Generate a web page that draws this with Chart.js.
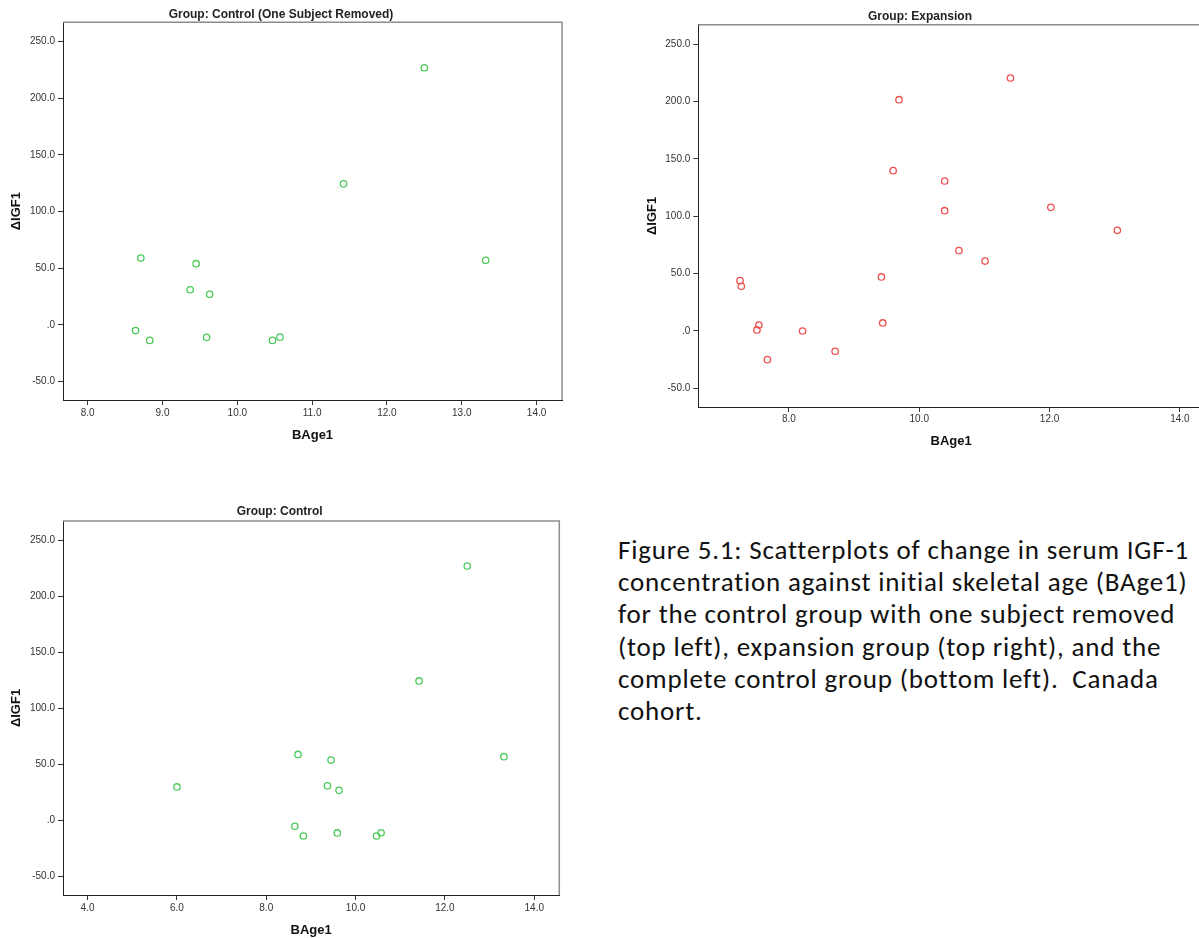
<!DOCTYPE html>
<html>
<head>
<meta charset="utf-8">
<script src="https://cdn.jsdelivr.net/npm/chart.js@4.4.0/dist/chart.umd.min.js"></script>
<style>
  html, body { margin: 0; padding: 0; background: #fff; overflow: hidden; width: 1199px; height: 938px; }
  .panel { position: absolute; }
  #caption {
    position: absolute; left: 618px; top: 534px;
    font-family: Carlito, Lato, sans-serif; font-size: 27px; line-height: 32.2px;
    letter-spacing: 0.8px; color: #111; white-space: pre;
  }
</style>
</head>
<body>
<canvas id="ctrlRemoved" class="panel" width="565" height="450" style="left:0;top:0"></canvas>
<canvas id="expansion" class="panel" width="570" height="457" style="left:636px;top:0"></canvas>
<canvas id="ctrlAll" class="panel" width="565" height="450" style="left:0;top:495px"></canvas>
<div id="caption">Figure 5.1: Scatterplots of change in serum IGF-1
concentration against initial skeletal age (BAge1)
for the control group with one subject removed
(top left), expansion group (top right), and the
complete control group (bottom left).  Canada
cohort.</div>

<script>
// control group, the last subject is the one removed in the top left plot
const controlBAge = [12.50, 11.42, 13.32, 8.71, 9.45, 9.37, 9.63, 8.64, 8.83, 9.59, 10.47, 10.57, 6.00];
const controlIGF = [227, 124.5, 57, 59, 54, 31, 27, -5, -13.7, -11, -13.7, -10.8, 30];
const removedSubject = 12;

// expansion group
const expansionBAge = [11.40, 9.69, 9.60, 10.39, 10.39, 12.02, 13.04, 10.61, 11.01, 9.42, 7.25, 7.27, 7.54, 7.51, 8.21, 9.44, 7.67, 8.71];
const expansionIGF = [220.6, 201.7, 139.8, 130.8, 104.9, 107.8, 87.8, 70.1, 61.0, 47.1, 43.9, 39.0, 5.2, 0.9, 0, 7.0, -25.0, -17.7];

// tick labels
const igfTicks = [-50, 0, 50, 100, 150, 200, 250];
const ageTicksRemoved = [8, 9, 10, 11, 12, 13, 14];
const ageTicksExpansion = [8, 10, 12, 14];
const ageTicksControl = [4, 6, 8, 10, 12, 14];

const GREEN = "#4cc95a";
const RED = "#ee5050";
const FONT = "'Liberation Sans', Arial, sans-serif";

function toPoints(xs, ys) {
  return xs.map((x, i) => ({ x: x, y: ys[i] }));
}

function oneDecimal(v) {
  return v === 0 ? ".0" : v.toFixed(1);
}

// top and right edge of the plot frame (left/bottom come from the axes)
const frameLines = {
  id: "frameLines",
  beforeDatasetsDraw(chart) {
    const { ctx, chartArea: a } = chart;
    ctx.save();
    ctx.strokeStyle = "#8c8c8c";
    ctx.lineWidth = 1.5;
    ctx.beginPath();
    ctx.moveTo(a.left, a.top);
    ctx.lineTo(a.right, a.top);
    ctx.lineTo(a.right, a.bottom);
    ctx.stroke();
    ctx.restore();
  },
};

function axisStyle(tickValues, tickPad) {
  return {
    type: "linear",
    afterBuildTicks: (ax) => {
      ax.ticks = tickValues.map((v) => ({ value: v }));
    },
    ticks: {
      autoSkip: false,
      maxRotation: 0,
      padding: tickPad,
      color: "#333",
      font: { family: FONT, size: 10 },
      callback: (v) => oneDecimal(v),
    },
    grid: { drawOnChartArea: false, drawTicks: true, tickLength: 5, color: "#333", tickWidth: 1 },
    border: { display: true, color: "#222", width: 1 },
  };
}

function scatterPanel(id, o) {
  const ctx = document.getElementById(id);
  if (!ctx) return;

  const x = axisStyle(o.xTicks, o.xTickPad);
  x.min = o.xMin;
  x.max = o.xMax;
  x.afterFit = (ax) => { ax.height = 50; };
  x.title = {
    display: true, text: "BAge1", color: "#111",
    font: { family: FONT, size: 13, weight: "bold" },
    padding: { top: 0, bottom: o.xTitlePad },
  };

  const y = axisStyle(igfTicks, 3);
  y.min = -66.3;
  y.max = 267.1;
  y.afterFit = (ax) => { ax.width = o.yWidth; };
  y.title = {
    display: true, text: "ΔIGF1", color: "#111",
    font: { family: FONT, size: 13, weight: "bold" },
    padding: { top: 9, bottom: 0 },
  };

  return new Chart(ctx, {
    type: "scatter",
    data: {
      datasets: [
        {
          data: toPoints(o.xs, o.ys),
          borderColor: o.color,
          backgroundColor: "rgba(0,0,0,0)",
          pointRadius: 3.2,
          pointHoverRadius: 3.2,
          pointBorderWidth: 1.3,
        },
      ],
    },
    options: {
      responsive: false,
      animation: false,
      events: [],
      layout: { autoPadding: false, padding: { left: 0, top: 0, right: o.padRight, bottom: 0 } },
      plugins: {
        legend: { display: false },
        tooltip: { enabled: false },
        title: {
          display: true,
          text: o.title,
          color: "#222",
          font: { family: FONT, size: 12, weight: "bold" },
          padding: { top: o.titleTop, bottom: o.titleBottom },
        },
      },
      scales: { x: x, y: y },
    },
    plugins: [frameLines],
  });
}

scatterPanel("ctrlRemoved", {
  title: "Group: Control (One Subject Removed)",
  xs: controlBAge.filter((_, i) => i !== removedSubject),
  ys: controlIGF.filter((_, i) => i !== removedSubject),
  color: GREEN,
  xTicks: ageTicksRemoved, xMin: 7.67, xMax: 14.34,
  yWidth: 63, padRight: 3,
  titleTop: 7.3, titleBottom: 0.6,
  xTickPad: 2, xTitlePad: 7.2,
});

scatterPanel("expansion", {
  title: "Group: Expansion",
  xs: expansionBAge,
  ys: expansionIGF,
  color: RED,
  xTicks: ageTicksExpansion, xMin: 6.61, xMax: 14.37,
  yWidth: 62.3, padRight: 2,
  titleTop: 9.3, titleBottom: 1,
  xTickPad: 1.5, xTitlePad: 7.5,
});

scatterPanel("ctrlAll", {
  title: "Group: Control",
  xs: controlBAge,
  ys: controlIGF,
  color: GREEN,
  xTicks: ageTicksControl, xMin: 3.45, xMax: 14.56,
  yWidth: 63, padRight: 5.7,
  titleTop: 9.3, titleBottom: 2.3,
  xTickPad: 2.3, xTitlePad: 7.2,
});
</script>
</body>
</html>
